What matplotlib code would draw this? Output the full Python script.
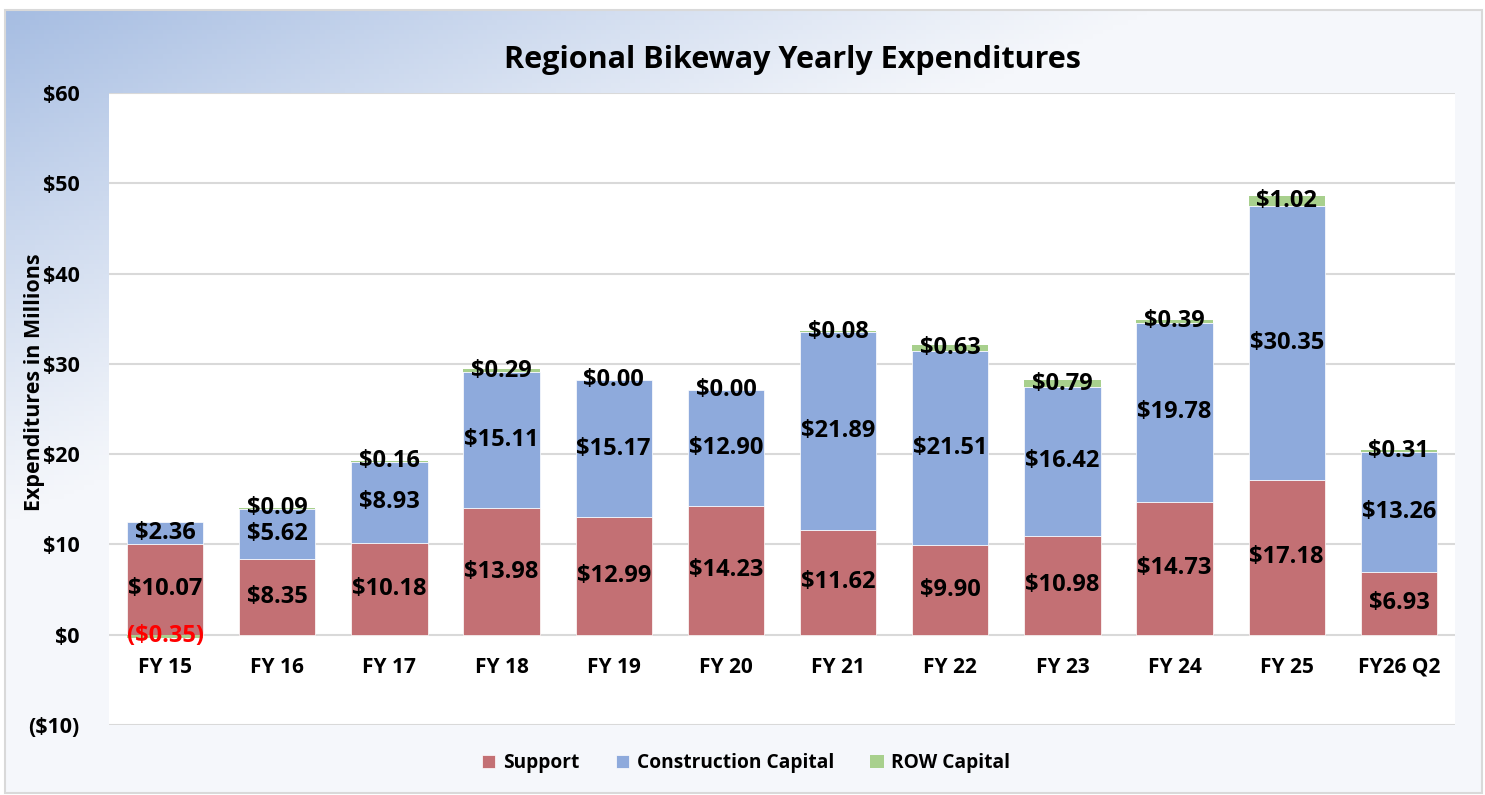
import numpy as np
import matplotlib.pyplot as plt
import matplotlib.transforms as mtrans
from matplotlib.patches import Rectangle
from matplotlib.colors import to_rgb

# chart data ($ millions)
years = ['FY 15', 'FY 16', 'FY 17', 'FY 18', 'FY 19', 'FY 20',
         'FY 21', 'FY 22', 'FY 23', 'FY 24', 'FY 25', 'FY26 Q2']
support = [10.07, 8.35, 10.18, 13.98, 12.99, 14.23, 11.62, 9.90, 10.98, 14.73, 17.18, 6.93]
construction = [2.36, 5.62, 8.93, 15.11, 15.17, 12.90, 21.89, 21.51, 16.42, 19.78, 30.35, 13.26]
row_capital = [-0.35, 0.09, 0.16, 0.29, 0.00, 0.00, 0.08, 0.63, 0.79, 0.39, 1.02, 0.31]

c_support = '#c37074'
c_constr = '#8eaadc'
c_row = '#a8d08d'

plt.rcParams['font.family'] = ['Open Sans', 'DejaVu Sans']
plt.rcParams['font.weight'] = 'bold'

fig = plt.figure(figsize=(14.85, 7.95), dpi=100)

# gradient background panel (top-left blue fading to near white)
bg = fig.add_axes([0, 0, 1, 1], zorder=-10)
bg.set_xlim(0, 1485)
bg.set_ylim(795, 0)
bg.axis('off')
xx, yy = np.meshgrid(np.linspace(0, 1485, 300), np.linspace(0, 795, 160))
t = np.clip(1 - (xx / 1150 + yy / 520), 0, 1) ** 1.1
c0 = np.array(to_rgb('#f5f7fb'))
c1 = np.array(to_rgb('#a6bde2'))
img = c0 + (c1 - c0) * t[..., None]
bg.imshow(img, extent=[5, 1482, 793, 10], aspect='auto', zorder=0)
bg.add_patch(Rectangle((5, 10), 1477, 783, fill=False, edgecolor='#d9d9d9', lw=1.5, zorder=1))

ax = fig.add_axes([109 / 1485, 1 - 725 / 795, 1346 / 1485, 632 / 795])
ax.set_facecolor('white')

x = np.arange(len(years))
sup = np.array(support)
con = np.array(construction)
row = np.array(row_capital)
row_bottom = np.where(row < 0, 0, sup + con)

w = 0.68
b1 = ax.bar(x, sup, w, color=c_support, edgecolor='white', linewidth=0.5, label='Support', zorder=3)
b2 = ax.bar(x, con, w, bottom=sup, color=c_constr, edgecolor='white', linewidth=0.5, label='Construction Capital', zorder=3)
b3 = ax.bar(x, row, w, bottom=row_bottom, color=c_row, edgecolor='none', label='ROW Capital', zorder=3)

def money(v):
    return '(${:.2f})'.format(-v) if v < 0 else '${:.2f}'.format(v)

for cont, vals in [(b1, sup), (b2, con), (b3, row)]:
    texts = ax.bar_label(cont, labels=[money(v) for v in vals], label_type='center',
                         fontsize=17, fontweight='bold', color='black', zorder=5)
    for tx, v in zip(texts, vals):
        if v < 0:
            tx.set_color('#ff0000')

ax.set_ylim(-10, 60)
ax.set_xlim(-0.5, len(years) - 0.5)
ax.set_yticks(np.arange(-10, 61, 10))
ax.set_yticklabels([money(v).replace('.00', '') for v in np.arange(-10, 61, 10)],
                   fontsize=15.5, fontweight='bold')
ax.set_xticks(x)
ax.set_xticklabels(years, fontsize=15, fontweight='bold')
ax.tick_params(axis='both', length=0)
ax.tick_params(axis='y', pad=21)
ax.grid(axis='y', color='#d9d9d9', linewidth=1.5, zorder=0)
for s in ax.spines.values():
    s.set_visible(False)

# category labels hang just under the zero line
for lbl in ax.get_xticklabels():
    lbl.set_transform(ax.transData + mtrans.ScaledTranslation(0, -0.22, fig.dpi_scale_trans))
    lbl.set_y(0)

fig.text(35 / 1485, 1 - 382 / 795, 'Expenditures in Millions', rotation=90, ha='center', va='center',
         fontsize=15.5, fontweight='bold')

fig.text(792 / 1485, 1 - 60 / 795, 'Regional Bikeway Yearly Expenditures', ha='center', va='center',
         fontsize=22, fontweight='bold')

leg = fig.legend(handles=[b1, b2, b3], loc='center', bbox_to_anchor=(746 / 1485, 1 - 763 / 795),
                 ncol=3, frameon=False, prop={'size': 13.8, 'weight': 'bold'},
                 handlelength=0.7, handleheight=0.7, columnspacing=1.9, handletextpad=0.4)

fig.savefig('out.png', dpi=100)
